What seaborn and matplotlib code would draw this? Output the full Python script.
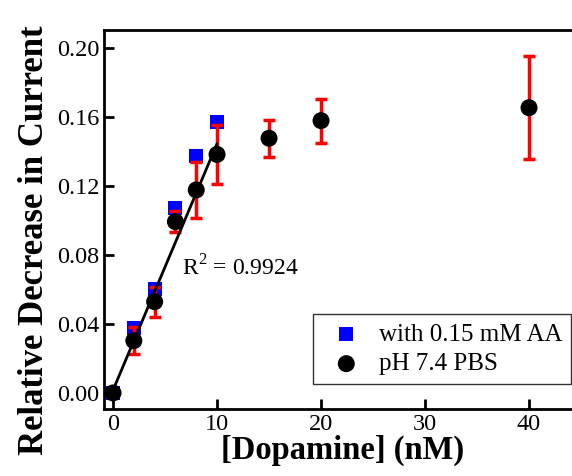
import numpy as np
import pandas as pd
import seaborn as sns
import matplotlib.pyplot as plt

# dopamine concentrations (nM)
conc_aa = [0, 2, 4, 6, 8, 10]
rel_aa = [0.0, 0.0375, 0.0601, 0.1071, 0.1376, 0.1573]

conc_pbs = [0, 2, 4, 6, 8, 10, 15, 20, 40]
rel_pbs = [0.0, 0.0303, 0.0529, 0.0993, 0.1177, 0.1383, 0.1477, 0.1579, 0.1654]
err_pbs = [0.0, 0.008, 0.0086, 0.006, 0.016, 0.017, 0.0107, 0.0127, 0.030]

fit_n = 6  # linear fit over 0-10 nM
r2_label = 'R$^2$ = 0.9924'

sns.set_style('ticks')
plt.rcParams['font.family'] = ['Liberation Serif', 'DejaVu Serif']
plt.rcParams['mathtext.fontset'] = 'custom'
plt.rcParams['mathtext.rm'] = 'Liberation Serif'
plt.rcParams['text.color'] = 'black'
plt.rcParams['axes.labelcolor'] = 'black'

fig = plt.figure(figsize=(5.72, 4.76), dpi=100)
ax = fig.add_axes([0.1818, 0.1408, 0.834, 0.796])

df_aa = pd.DataFrame({'x': conc_aa, 'y': rel_aa})
df_pbs = pd.DataFrame({'x': conc_pbs, 'y': rel_pbs, 'err': err_pbs})

sns.scatterplot(data=df_aa, x='x', y='y', marker='s', s=100, color='#0000ff',
                edgecolor='none', label='with 0.15 mM AA', ax=ax, zorder=2)
ax.errorbar(df_pbs['x'], df_pbs['y'], yerr=df_pbs['err'], fmt='none',
            ecolor='#ff0000', elinewidth=2.5, capsize=4, capthick=2.5, zorder=3)
sns.scatterplot(data=df_pbs, x='x', y='y', marker='o', s=150, color='black',
                edgecolor='none', label='pH 7.4 PBS', ax=ax, zorder=4)
sns.regplot(x=conc_pbs[:fit_n], y=rel_pbs[:fit_n], scatter=False, ci=None,
            truncate=True, color='black', line_kws={'lw': 2, 'zorder': 5}, ax=ax)

ax.text(6.65, 0.0725, r2_label, fontsize=17, va='center', ha='left')

ax.set_xlim(-0.87, 45)
ax.set_ylim(-0.0093, 0.2104)
ax.set_xticks([0, 10, 20, 30, 40])
ax.set_yticks([0.0, 0.04, 0.08, 0.12, 0.16, 0.20])
ax.set_yticklabels([f'{v:.2f}' for v in [0.0, 0.04, 0.08, 0.12, 0.16, 0.20]])
ax.tick_params(direction='in', length=7, width=2, labelsize=17.5, colors='black')
for s in ax.spines.values():
    s.set_linewidth(2)
    s.set_color('black')

ax.set_xlabel('[Dopamine] (nM)', fontsize=23.5, fontweight='bold', labelpad=0)
ax.set_ylabel('Relative Decrease in Current', fontsize=25, fontweight='bold')
ax.yaxis.set_label_coords(-0.112, 0.445)

leg = ax.legend(loc='lower right', bbox_to_anchor=(0.979, 0.066), borderaxespad=0,
                fontsize=18, frameon=True, fancybox=False, edgecolor='black',
                handletextpad=0.3, borderpad=0.35, labelspacing=0.28, markerscale=1.0)
leg.get_frame().set_linewidth(1)

fig.savefig('out.png', dpi=100)
